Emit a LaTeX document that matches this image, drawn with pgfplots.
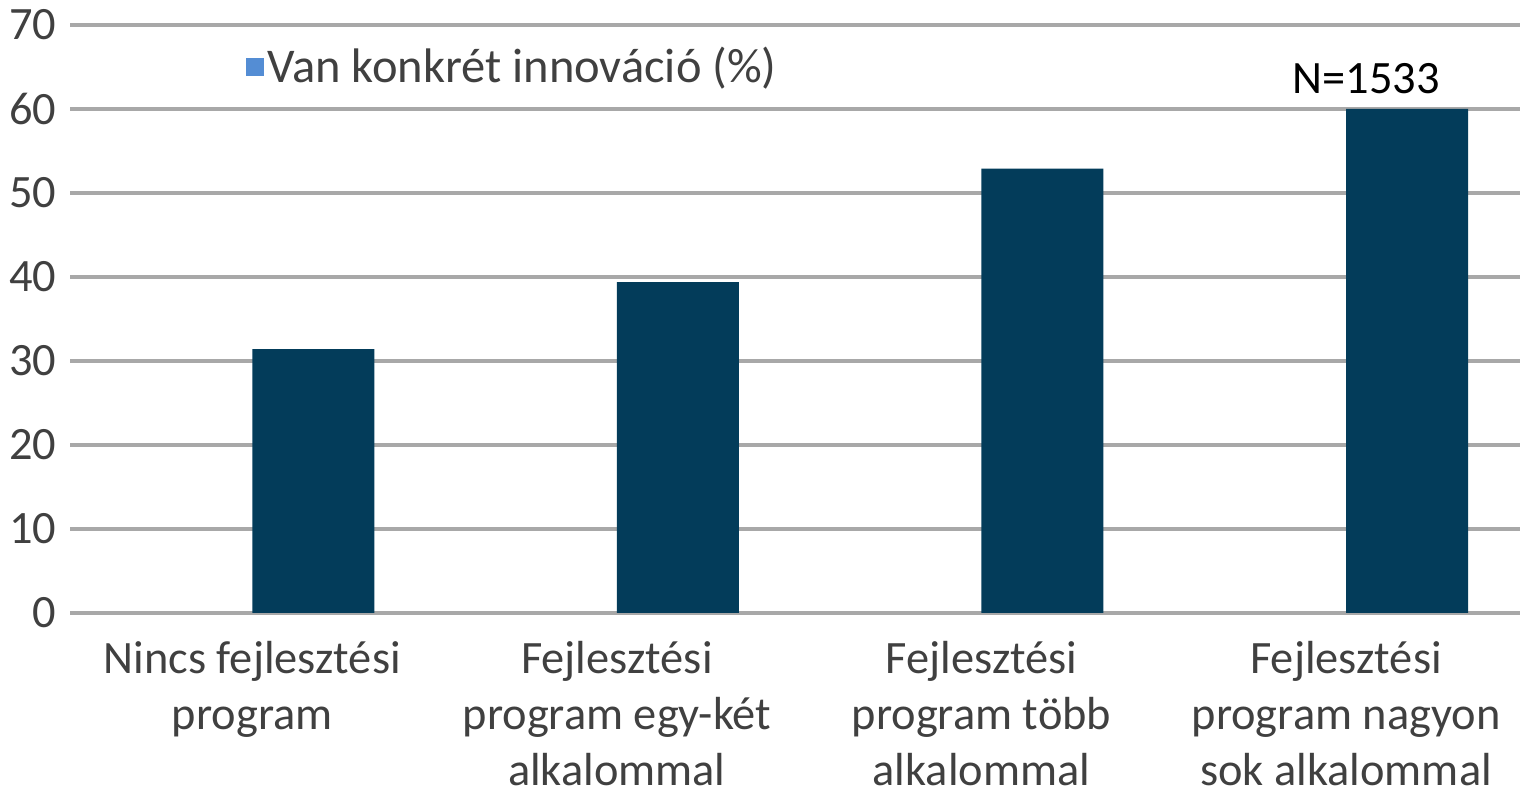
\documentclass[border=0pt]{standalone}
\usepackage{fontspec}
\setmainfont{Carlito}
\usepackage{pgfplots}
\pgfplotsset{compat=1.18}

\definecolor{barnavy}{RGB}{3,60,90}
\definecolor{legblue}{RGB}{84,141,212}
\definecolor{txtgray}{RGB}{64,64,64}
\definecolor{gridgray}{RGB}{168,168,168}

\begin{document}
\begin{tikzpicture}
\useasboundingbox (0,0) rectangle (15.2,7.94);
\begin{axis}[
  at={(0.70cm,1.81cm)}, anchor=south west,
  scale only axis,
  width=14.5cm, height=5.88cm,
  xmin=-0.5, xmax=3.477,
  ymin=0, ymax=70,
  ytick={0,10,...,70},
  xtick={0,1,2,3},
  xticklabels={{Nincs fejlesztési\\program},
               {Fejlesztési\\program egy-két\\alkalommal},
               {Fejlesztési\\program több\\alkalommal},
               {Fejlesztési\\program nagyon\\sok alkalommal}},
  axis line style={draw=none},
  major tick length=0pt,
  ymajorgrids,
  grid style={gridgray, line width=1pt},
  /pgf/number format/assume math mode=true,
  tick label style={font=\fontsize{13.2}{15.9}\selectfont, text=txtgray},
  yticklabel style={inner sep=0pt, xshift=-0.13cm},
  xticklabel style={inner sep=0pt, yshift=-0.28cm, align=center},
  ybar, bar width=1.22cm, bar shift=0.61cm,
  legend style={at={(rel axis cs:0.1207,0.928)}, anchor=west,
    draw=none, fill=none, inner sep=0pt,
    font=\fontsize{13.8}{16.2}\selectfont, text=txtgray,
    nodes={inner sep=1pt}},
  legend image code/.code={\fill[legblue] (0cm,-0.09cm) rectangle (0.18cm,0.09cm);},
  clip=false,
]
\addplot[fill=barnavy, draw=none] coordinates {(0,31.4) (1,39.4) (2,52.9) (3,60.0)};
\addlegendentry{Van konkrét innováció (\%)}
\node[anchor=base, font=\fontsize{13.2}{16.2}\selectfont, text=black] at (axis cs:3.055,61.9) {N=1533};
\end{axis}
\end{tikzpicture}
\end{document}
